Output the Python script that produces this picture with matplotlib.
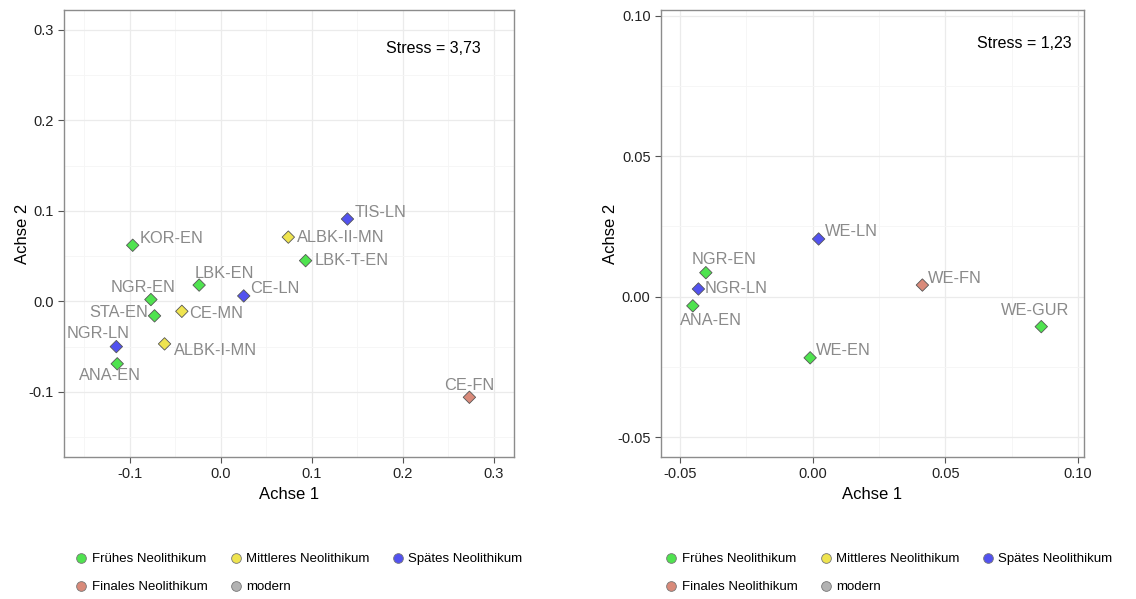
import matplotlib
matplotlib.use('Agg')
import matplotlib.pyplot as plt
from matplotlib.lines import Line2D
from matplotlib.ticker import MultipleLocator, FormatStrFormatter

plt.rcParams['font.family'] = ['Liberation Sans', 'DejaVu Sans']
plt.rcParams['axes.unicode_minus'] = False

green = '#4fe34f'
yellow = '#efe44f'
blue = '#5252ef'
salmon = '#d98a7a'
grey = '#b3b3b3'

periods = ['Frühes Neolithikum', 'Mittleres Neolithikum', 'Spätes Neolithikum',
           'Finales Neolithikum', 'modern']
period_colors = [green, yellow, blue, salmon, grey]

# left panel
left_names = ['KOR-EN', 'NGR-EN', 'LBK-EN', 'CE-LN', 'STA-EN', 'CE-MN', 'NGR-LN',
              'ALBK-I-MN', 'ANA-EN', 'CE-FN', 'TIS-LN', 'ALBK-II-MN', 'LBK-T-EN']
left_x = [-0.097, -0.077, -0.024, 0.025, -0.073, -0.043, -0.115,
          -0.062, -0.114, 0.273, 0.139, 0.074, 0.093]
left_y = [0.062, 0.002, 0.018, 0.006, -0.016, -0.011, -0.050,
          -0.047, -0.069, -0.106, 0.091, 0.071, 0.045]
left_period = [0, 0, 0, 2, 0, 1, 2, 1, 0, 3, 2, 1, 0]
left_stress = 'Stress = 3,73'

# right panel
right_names = ['NGR-EN', 'NGR-LN', 'ANA-EN', 'WE-LN', 'WE-FN', 'WE-GUR', 'WE-EN']
right_x = [-0.0402, -0.0430, -0.0451, 0.0023, 0.0414, 0.0862, -0.0009]
right_y = [0.0085, 0.0027, -0.0033, 0.0205, 0.0041, -0.0107, -0.0218]
right_period = [0, 2, 0, 2, 3, 0, 0]
right_stress = 'Stress = 1,23'

# label placement (pixel offsets, alignment) - hand-tuned like ggrepel output
left_offsets = {
    'KOR-EN': (7, 7, 'left'), 'NGR-EN': (-8, 12, 'center'), 'LBK-EN': (-5, 12, 'left'),
    'CE-LN': (6, 7, 'left'), 'STA-EN': (-6, 3, 'right'), 'CE-MN': (7, -2, 'left'),
    'NGR-LN': (-18, 13, 'center'), 'ALBK-I-MN': (9, -7, 'left'), 'ANA-EN': (-7, -12, 'center'),
    'CE-FN': (0, 12, 'center'), 'TIS-LN': (7, 7, 'left'), 'ALBK-II-MN': (9, 0, 'left'),
    'LBK-T-EN': (9, 0, 'left')}
right_offsets = {
    'NGR-EN': (18, 13, 'center'), 'NGR-LN': (6, 0, 'left'), 'ANA-EN': (18, -15, 'center'),
    'WE-LN': (6, 7, 'left'), 'WE-FN': (6, 7, 'left'), 'WE-GUR': (-6, 16, 'center'),
    'WE-EN': (6, 7, 'left')}


def mds_panel(ax, names, xs, ys, per, offsets, stress, stress_xy, xlim, ylim, major):
    for spine in ax.spines.values():
        spine.set_color('#8c8c8c')
        spine.set_linewidth(1.0)
    ax.xaxis.set_major_locator(MultipleLocator(major))
    ax.yaxis.set_major_locator(MultipleLocator(major))
    ax.xaxis.set_minor_locator(MultipleLocator(major / 2))
    ax.yaxis.set_minor_locator(MultipleLocator(major / 2))
    ax.grid(which='major', color='#ebebeb', linewidth=0.9)
    ax.grid(which='minor', color='#f5f5f5', linewidth=0.6)
    ax.set_axisbelow(True)
    ax.tick_params(which='major', direction='out', length=4, color='#555555',
                   labelsize=10.5, labelcolor='#222222')
    ax.tick_params(which='minor', length=0)
    ax.set_xlim(*xlim)
    ax.set_ylim(*ylim)
    cols = [period_colors[p] for p in per]
    ax.scatter(xs, ys, marker='D', s=40, c=cols, edgecolors='#555555', linewidths=0.6, zorder=3)
    for n, x, y in zip(names, xs, ys):
        dx, dy, ha = offsets[n]
        ax.annotate(n, (x, y), xytext=(dx, dy), textcoords='offset pixels',
                    ha=ha, va='center', fontsize=11.8, color='#8a8a8a', zorder=4)
    ax.text(stress_xy[0], stress_xy[1], stress, ha='right', va='center', fontsize=11.5,
            color='black')
    ax.set_xlabel('Achse 1', fontsize=12, labelpad=4)
    ax.set_ylabel('Achse 2', fontsize=12, labelpad=-1)


fig = plt.figure(figsize=(11.36, 5.99), dpi=100)
ax1 = fig.add_axes([64 / 1136, 142 / 599, 450 / 1136, 447 / 599])
ax2 = fig.add_axes([661 / 1136, 142 / 599, 423 / 1136, 447 / 599])

mds_panel(ax1, left_names, left_x, left_y, left_period, left_offsets, left_stress,
          (0.2857, 0.2796), (-0.1725, 0.322), (-0.172, 0.322), 0.1)
mds_panel(ax2, right_names, right_x, right_y, right_period, right_offsets, right_stress,
          (0.0977, 0.090), (-0.0571, 0.1023), (-0.0571, 0.102), 0.05)
ax2.yaxis.set_major_formatter(FormatStrFormatter('%.2f'))
ax2.xaxis.set_major_formatter(FormatStrFormatter('%.2f'))

# legends, row-wise order for a column-major 3 column legend
order = [0, 3, 1, 4, 2]
handles = [Line2D([], [], marker='o', linestyle='', markersize=7,
                  markerfacecolor=period_colors[i], markeredgecolor='#777777',
                  markeredgewidth=0.6) for i in order]
labels = [periods[i] for i in order]
for x0 in (77, 667):
    fig.legend(handles, labels, ncol=3, loc='upper left',
               bbox_to_anchor=(x0 / 1136, 46 / 599), frameon=False, fontsize=9.5,
               handlelength=0.6, handletextpad=0.5, columnspacing=1.85,
               labelspacing=1.2, borderpad=0, borderaxespad=0)

fig.savefig('out.png', dpi=100)
